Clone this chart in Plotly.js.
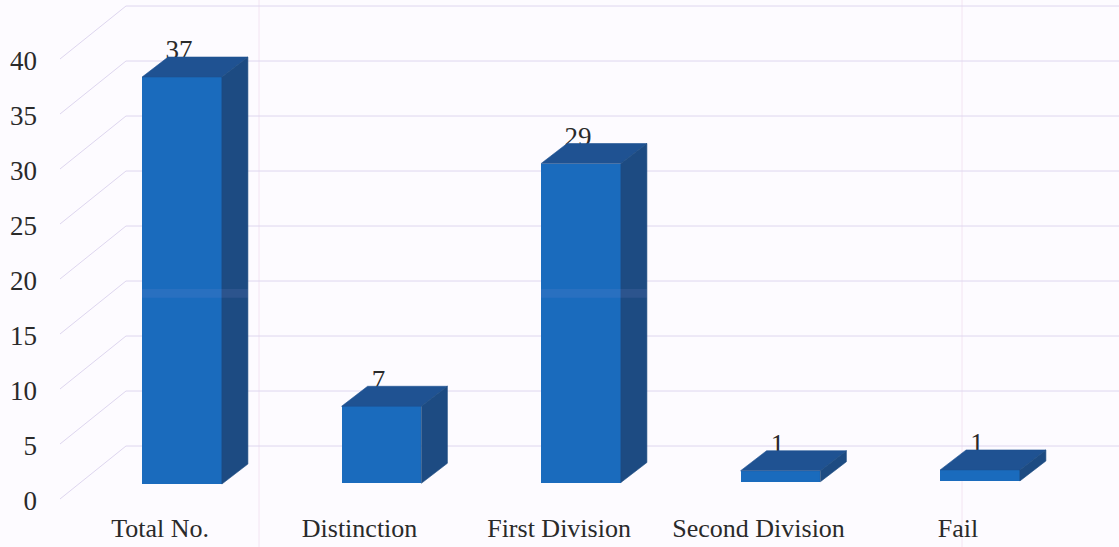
<!DOCTYPE html>
<html><head><meta charset="utf-8">
<script src="https://cdn.plot.ly/plotly-3.0.1.min.js"></script>
<style>html,body{margin:0;padding:0;background:#fdfbff;overflow:hidden}#chart{width:1119px;height:547px}</style>
</head><body><div id="chart"></div>
<script>
// Data
const categories = ["Total No.", "Distinction", "First Division", "Second Division", "Fail"];
const values = [37, 7, 29, 1, 1];
const yTicks = [0, 5, 10, 15, 20, 25, 30, 35, 40];

// Oblique projection, in axis units
const W = 1119, H = 547, mL = 58, mB = 37, slot = 199.5, unit = 11;
const xRange = [(mL - 182) / slot, (W - 182) / slot];
const yRange = [(499 - (H - mB)) / unit, 499 / unit];
const px = p => (p - 182) / slot;
const wallDx = 66 / slot, wallDy = 53 / unit;
const depthX = 26 / slot, depthY = 20 / unit;
const halfW = 0.2;
const xs = categories.map((_, i) => i);
const bases = categories.map((_, i) => 1.36 + 0.07 * i);

const colFront = "#1a6bbd", colTop = "#1f5292", colSide = "#1d4b82";
const gridCol = "#ded6ef", font = "Liberation Serif, Times New Roman, serif", ink = "#2a2a2a";

const shapes = [];
const frontStart = px(60);
yTicks.forEach(v => {
  shapes.push({type: "line", layer: "below", xref: "x", yref: "y", x0: frontStart, y0: v, x1: frontStart + wallDx, y1: v + wallDy, line: {color: gridCol, width: 1}});
  shapes.push({type: "line", layer: "below", xref: "x", yref: "y", x0: frontStart + wallDx, y0: v + wallDy, x1: xRange[1], y1: v + wallDy, line: {color: gridCol, width: 1}});
});
[259, 962].forEach(p => shapes.push({type: "line", layer: "below", xref: "x", yref: "paper", x0: px(p), x1: px(p), y0: -0.08, y1: 1, line: {color: "#f3e4f2", width: 1}}));
// faint lighter band that crosses the two tall bars
[0, 2].forEach(i => shapes.push({type: "rect", layer: "above", xref: "x", yref: "y", x0: xs[i] - halfW, x1: xs[i] + halfW + depthX, y0: 18.3, y1: 19.1, fillcolor: "rgba(150,150,215,0.13)", line: {width: 0}}));

function face(xp, yp, color) {
  return {type: "scatter", mode: "lines", x: xp, y: yp, fill: "toself", fillcolor: color,
    line: {width: 0.6, color: color}, hoverinfo: "skip", showlegend: false, cliponaxis: false};
}

const traces = [];
traces.push({type: "bar", x: xs, y: values, base: bases, width: halfW * 2, marker: {color: colFront, line: {width: 0}}, hoverinfo: "skip", showlegend: false});
traces.push({type: "scatter", mode: "text", x: xs.map(x => x - 0.015), y: values.map((v, i) => v + bases[i] + 2.22),
  text: values.map(String), textposition: "middle center", textfont: {family: font, size: 27, color: ink}, hoverinfo: "skip", showlegend: false});
xs.forEach((x, i) => {
  const top = values[i] + bases[i], bot = bases[i], l = x - halfW, r = x + halfW;
  traces.push(face([l, r, r + depthX, l + depthX, l], [top, top, top + depthY, top + depthY, top], colTop));
  traces.push(face([r, r + depthX, r + depthX, r, r], [bot, bot + depthY, top + depthY, top, bot], colSide));
});

const layout = {
  width: W, height: H, autosize: false,
  margin: {l: mL, r: 0, t: 0, b: mB, pad: 0},
  paper_bgcolor: "#fdfbff", plot_bgcolor: "#fdfbff",
  bargap: 0, showlegend: false, shapes,
  xaxis: {range: xRange, showgrid: false, zeroline: false, showline: false, ticks: "",
    tickmode: "array", tickvals: xs.map(x => x - 0.11), ticktext: categories, tickangle: 0,
    ticklabelstandoff: 0, tickfont: {family: font, size: 26, color: ink}},
  yaxis: {range: yRange, showgrid: false, zeroline: false, showline: false, ticks: "",
    tickmode: "array", tickvals: yTicks.map(v => v - 0.1), ticktext: yTicks.map(String),
    ticklabelstandoff: 20, tickfont: {family: font, size: 27, color: ink}}
};
Plotly.newPlot("chart", traces, layout, {displayModeBar: false, staticPlot: true});
</script></body></html>
